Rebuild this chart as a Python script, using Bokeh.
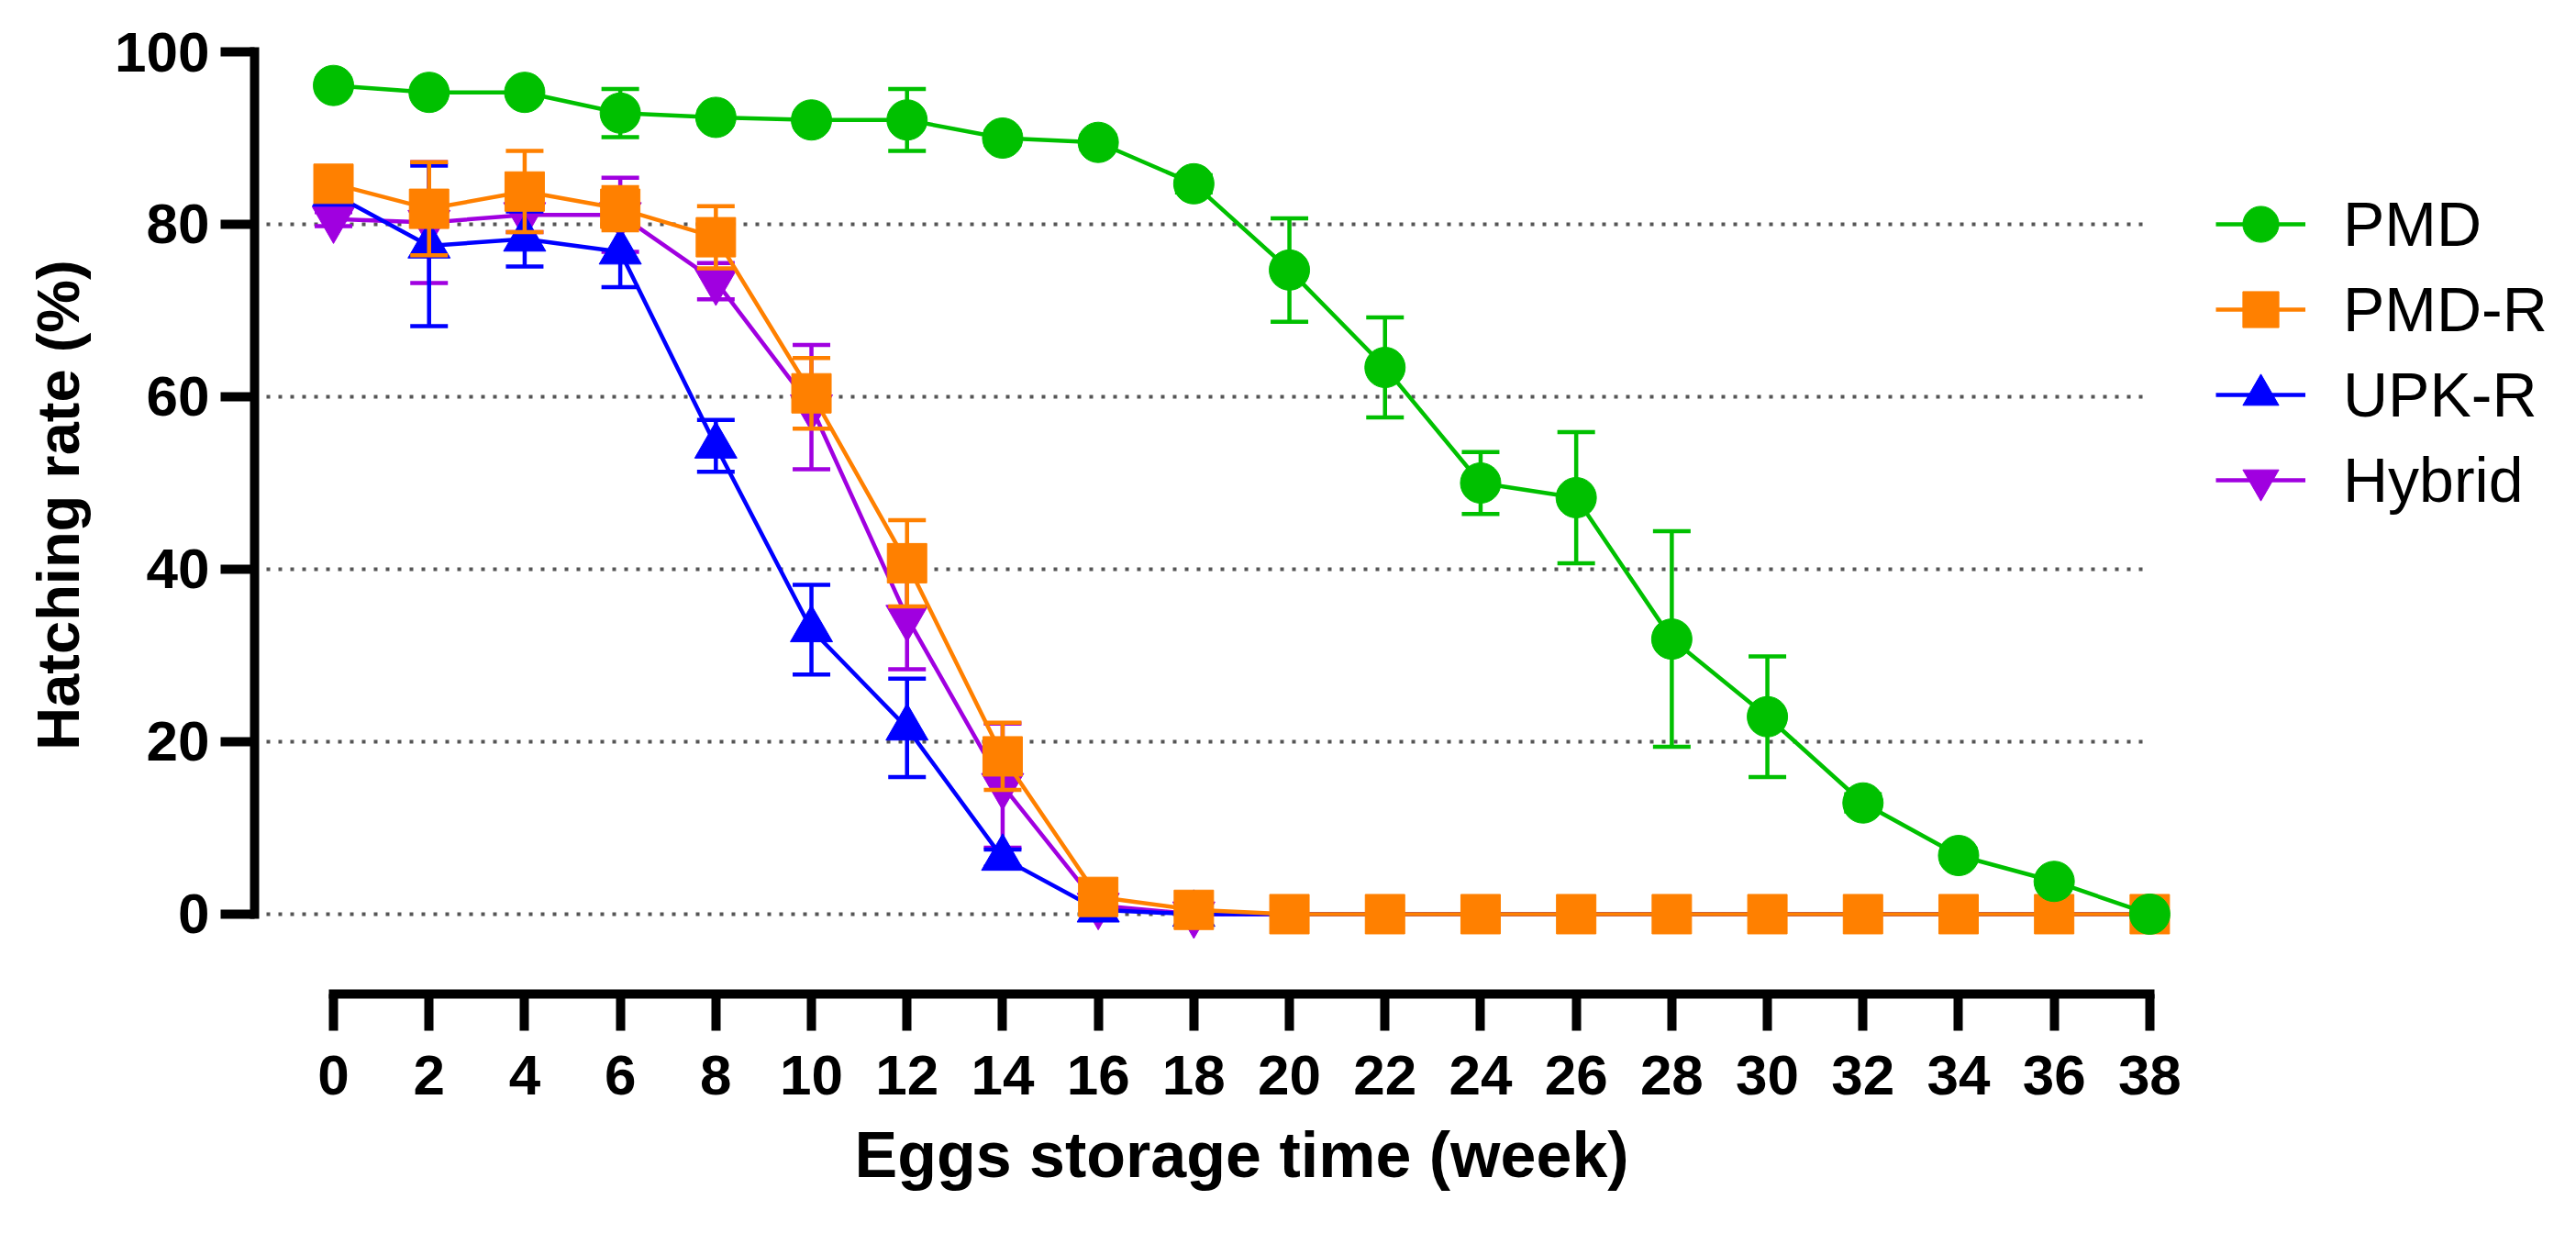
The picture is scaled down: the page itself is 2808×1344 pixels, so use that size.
from bokeh.plotting import figure
from bokeh.models import FixedTicker, Legend, LegendItem, Range1d, Title
from bokeh.embed import file_html
from bokeh.resources import INLINE

# ---------------- data ----------------
weeks = [0, 2, 4, 6, 8, 10, 12, 14, 16, 18, 20, 22, 24, 26, 28, 30, 32, 34, 36, 38]
y_ticks = [0, 20, 40, 60, 80, 100]

series_names = ["PMD", "PMD-R", "UPK-R", "Hybrid"]
x_title = "Eggs storage time (week)"
y_title = "Hatching rate (%)"

pmd_mean = [96.1, 95.3, 95.3, 92.9, 92.4, 92.1, 92.1, 90.0, 89.5, 84.7,
            74.7, 63.4, 50.0, 48.3, 31.9, 22.9, 12.9, 6.8, 3.8, 0.0]
pmd_sd = [0.8, 0.5, 0.5, 2.8, 0.8, 0.8, 3.6, 0.8, 0.8, 1.0,
          6.0, 5.8, 3.6, 7.6, 12.5, 7.0, 1.0, 0.8, 0.5, 0.0]

pmdr_mean = [84.7, 81.8, 83.8, 81.8, 78.5, 60.4, 40.7, 18.3, 2.0, 0.5,
             0.0, 0.0, 0.0, 0.0, 0.0, 0.0, 0.0, 0.0, 0.0, 0.0]
pmdr_sd = [1.0, 5.4, 4.7, 2.5, 3.6, 4.1, 5.0, 3.9, 0.5, 0.2,
           0.0, 0.0, 0.0, 0.0, 0.0, 0.0, 0.0, 0.0, 0.0, 0.0]

upkr_mean = [83.5, 77.5, 78.3, 76.8, 54.3, 33.0, 21.6, 6.5, 0.5, 0.0,
             0.0, 0.0, 0.0, 0.0, 0.0, 0.0, 0.0, 0.0, 0.0, 0.0]
upkr_sd = [0.5, 9.3, 3.2, 4.1, 3.0, 5.2, 5.7, 1.0, 0.5, 0.0,
           0.0, 0.0, 0.0, 0.0, 0.0, 0.0, 0.0, 0.0, 0.0, 0.0]

hybrid_mean = [80.6, 80.2, 81.1, 81.1, 73.4, 58.8, 34.4, 14.9, 1.0, 0.0,
               0.0, 0.0, 0.0, 0.0, 0.0, 0.0, 0.0, 0.0, 0.0, 0.0]
hybrid_sd = [0.8, 7.0, 2.0, 4.3, 2.1, 7.2, 6.0, 7.2, 0.5, 0.0,
             0.0, 0.0, 0.0, 0.0, 0.0, 0.0, 0.0, 0.0, 0.0, 0.0]

# ---------------- styles ----------------
colors = {"PMD": "#00C000", "PMD-R": "#FF8000", "UPK-R": "#0000FF", "Hybrid": "#A000E0"}
markers = {"PMD": "circle", "PMD-R": "square", "UPK-R": "triangle", "Hybrid": "inverted_triangle"}
msizes = {"PMD": 44, "PMD-R": 43, "UPK-R": 46, "Hybrid": 46}
data = {"PMD": (pmd_mean, pmd_sd), "PMD-R": (pmdr_mean, pmdr_sd),
        "UPK-R": (upkr_mean, upkr_sd), "Hybrid": (hybrid_mean, hybrid_sd)}
# triangles at 0 from week 20 on sit fully hidden behind the PMD-R squares in the original
hidden_from = {"UPK-R": 10, "Hybrid": 10}

FONT = "Liberation Sans"
x_start = -1.651

p = figure(width=2792, height=1328, output_backend="svg", toolbar_location=None,
           x_range=Range1d(x_start, 46.62), y_range=Range1d(-9.26, 104.15),
           min_border_left=277, min_border_right=0, min_border_top=17, min_border_bottom=245)
p.outline_line_color = None
p.background_fill_color = "white"
p.border_fill_color = "white"
p.xgrid.visible = False
p.ygrid.visible = False

# dotted horizontal grid lines (no line at 100)
grid_y = y_ticks[:-1]
p.segment(x0=[x_start] * len(grid_y), x1=[weeks[-1]] * len(grid_y), y0=grid_y, y1=grid_y,
          line_color="#555555", line_width=4, line_dash="4 9")

renderers = {}
for name in ["Hybrid", "UPK-R", "PMD-R", "PMD"]:
    mean, sd = data[name]
    c = colors[name]
    lo = [m - s for m, s in zip(mean, sd)]
    hi = [m + s for m, s in zip(mean, sd)]
    p.segment(x0=weeks, x1=weeks, y0=lo, y1=hi, line_color=c, line_width=4.5)
    p.scatter(x=weeks + weeks, y=lo + hi, marker="dash", size=41, line_color=c, line_width=4.5)
    lr = p.line(x=weeks, y=mean, line_color=c, line_width=4.5)
    n = hidden_from.get(name, len(weeks))
    sr = p.scatter(x=weeks[:n], y=mean[:n], marker=markers[name], size=msizes[name],
                   fill_color=c, line_color=c, line_width=1)
    renderers[name] = [lr, sr]

# axes
xa = p.xaxis[0]
xa.ticker = FixedTicker(ticks=weeks)
xa.bounds = (weeks[0], weeks[-1])
ya = p.yaxis[0]
ya.ticker = FixedTicker(ticks=y_ticks)
ya.bounds = (y_ticks[0], y_ticks[-1])
for ax in (xa, ya):
    ax.axis_line_width = 10
    ax.axis_line_color = "black"
    ax.axis_line_cap = "square"
    ax.major_tick_line_width = 10
    ax.major_tick_line_color = "black"
    ax.major_tick_in = 0
    ax.minor_tick_line_color = None
    ax.major_label_text_font = FONT
    ax.major_label_text_font_style = "bold"
    ax.major_label_text_font_size = "62px"
    ax.major_label_text_color = "black"
    ax.axis_label_text_font = FONT
    ax.axis_label_text_font_style = "bold"
    ax.axis_label_text_color = "black"
xa.major_tick_out = 40
ya.major_tick_out = 37
xa.major_label_standoff = 27
ya.major_label_standoff = 12
ya.axis_label = y_title
ya.axis_label_text_font_size = "65px"
ya.axis_label_standoff = 22

# x-axis title, centred under the drawn axis (0..38) rather than under the wider frame
p.add_layout(Title(text=x_title, align="left", offset=654, standoff=45,
                   text_font=FONT, text_font_style="bold", text_font_size="70px",
                   text_color="black"), "below")

# one legend entry per box so the rows can sit closer than the glyph box height
row_y = [784, 691, 598, 505]
for name, yy in zip(series_names, row_y):
    lg = Legend(items=[LegendItem(label=name, renderers=renderers[name])],
                location=(2138, yy), orientation="vertical",
                glyph_width=98, glyph_height=110, spacing=0, padding=0, margin=0,
                label_standoff=41, label_text_font=FONT, label_text_font_size="68px",
                label_text_color="black", border_line_color=None, background_fill_alpha=0)
    p.add_layout(lg, "center")

open("out.html", "w").write(file_html(p, INLINE))
